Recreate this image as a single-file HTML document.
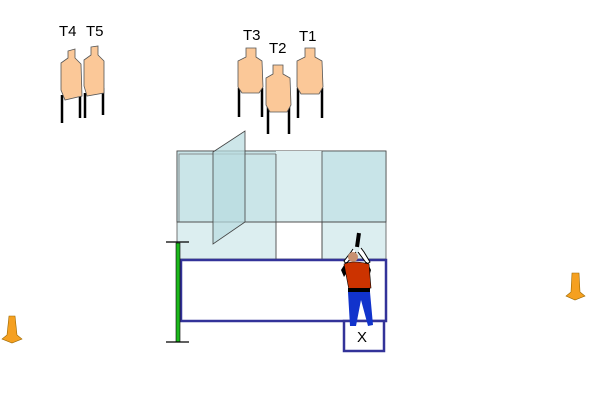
<!DOCTYPE html>
<html><head><style>body{margin:0;background:#fff}svg{display:block}</style></head>
<body>
<svg width="600" height="400" viewBox="0 0 600 400" xmlns="http://www.w3.org/2000/svg" font-family="Liberation Sans, sans-serif">
<g stroke="#000" stroke-width="2.5">
<line x1="62" y1="95" x2="62" y2="123"/><line x1="80" y1="90" x2="80" y2="118"/>
<line x1="85" y1="93" x2="85" y2="118"/><line x1="103" y1="88" x2="103" y2="115"/>
<line x1="239" y1="88" x2="239" y2="117"/><line x1="262" y1="88" x2="262" y2="117"/>
<line x1="268" y1="105" x2="268" y2="134"/><line x1="289" y1="105" x2="289" y2="134"/>
<line x1="298" y1="88" x2="298" y2="118"/><line x1="322" y1="88" x2="322" y2="118"/>
</g>
<g fill="#fbc898" stroke="#555" stroke-width="0.8">
<path d="M68,51 L75,49 L75,58 L81,64 L82,96 L65,100 L61,90 L61,63 L68,58 Z"/>
<path d="M91,47 L98,46 L98,55 L104,61 L104,93 L87,96 L84,86 L84,60 L91,55 Z"/>
<path d="M246,48 L256,48 L256,57 L262,61 L263,87 L259,93 L242,93 L238,87 L238,61 L246,57 Z"/>
<path d="M273,65 L283,65 L283,74 L290,78 L291,105 L287,112 L270,112 L266,105 L266,78 L273,74 Z"/>
<path d="M305,48 L315,48 L315,57 L322,61 L323,87 L319,94 L301,94 L297,87 L297,61 L305,57 Z"/>
</g>
<g font-size="15" fill="#000">
<text x="59" y="36">T4</text><text x="86" y="36">T5</text>
<text x="243" y="40">T3</text><text x="269" y="53">T2</text><text x="299" y="41">T1</text>
</g>
<rect x="177" y="151" width="209" height="108" fill="#dceef0" stroke="#555" stroke-width="0.8"/>
<rect x="177" y="151" width="209" height="71" fill="#c8e4e8" stroke="#444" stroke-width="0.8"/>
<rect x="179" y="154" width="97" height="68" fill="#cbe5e8" stroke="#777" stroke-width="0.8" fill-opacity="0.7"/>
<rect x="276" y="151" width="46" height="71" fill="#dceef0"/>
<rect x="276" y="222" width="46" height="37" fill="#fff" stroke="#555" stroke-width="0.8"/>
<line x1="322" y1="151" x2="322" y2="259" stroke="#444" stroke-width="0.8"/>
<line x1="276" y1="154" x2="276" y2="259" stroke="#555" stroke-width="0.8"/>
<line x1="177" y1="222" x2="386" y2="222" stroke="#444" stroke-width="0.8"/>
<polygon points="213,152 245,131 245,222 213,244" fill="#b8dce0" fill-opacity="0.7" stroke="#444" stroke-width="0.8"/>
<rect x="181" y="260" width="205" height="61" fill="#fff" stroke="#333399" stroke-width="2.5"/>
<rect x="344" y="321" width="40" height="30" fill="#fff" stroke="#333399" stroke-width="2.5"/>
<text x="357" y="342" font-size="15">X</text>
<rect x="176" y="243" width="4" height="99" fill="#1cb81c" stroke="#000" stroke-width="0.6"/>
<line x1="166" y1="242" x2="189" y2="242" stroke="#000" stroke-width="1.2"/>
<line x1="166" y1="342" x2="189" y2="342" stroke="#000" stroke-width="1.2"/>
<g>
<path d="M353,249 L351,252 L344,261 L346,264 L356,252 M361,248 L364,252 L370,262 L367,264 L358,252" stroke="#000" stroke-width="1" fill="#fff"/>
<path d="M346,262 L341,270 L344,277 L352,264 Z M367,262 L371,270 L369,277 L362,264 Z" fill="#000"/>
<rect x="356" y="233" width="4" height="14" fill="#000" transform="rotate(8 358 240)"/>
<circle cx="353" cy="257" r="5" fill="#c89070"/>
<path d="M344,264 Q353,260 369,264 L371,288 L349,290 Z" fill="#cc3300" stroke="#000" stroke-width="0.6"/>
<rect x="348" y="288" width="22" height="4" fill="#000"/>
<path d="M348,292 L370,292 L373,325 L368,326 L361,300 L356,326 L350,326 Z" fill="#1133cc"/>
</g>
<g fill="#f5a020" stroke="#996600" stroke-width="0.6">
<path d="M9,316 L15,316 L17,335 L22,339 L12,343 L2,339 L7,335 Z"/>
<path d="M572,273 L579,273 L580,292 L585,296 L575,300 L566,296 L571,292 Z"/>
</g>
</svg>
</body></html>
